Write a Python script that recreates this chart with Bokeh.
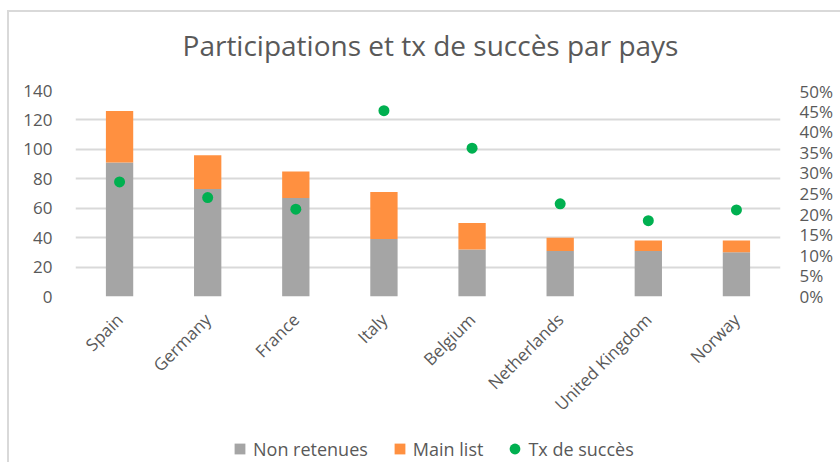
import math
from bokeh.plotting import figure
from bokeh.layouts import column
from bokeh.models import (FactorRange, Range1d, LinearAxis, NumeralTickFormatter,
                          Legend, LegendItem, ColumnDataSource, FixedTicker, Div)
from bokeh.embed import file_html
from bokeh.resources import INLINE

countries = ["Spain", "Germany", "France", "Italy", "Belgium", "Netherlands", "United Kingdom", "Norway"]
non_retenues = [91, 73, 67, 39, 32, 31, 31, 30]
main_list = [35, 23, 18, 32, 18, 9, 7, 8]
tx_succes = [0.278, 0.240, 0.212, 0.451, 0.360, 0.225, 0.184, 0.210]

left_ticks = [0, 20, 40, 60, 80, 100, 120, 140]
right_ticks = [0, 0.05, 0.10, 0.15, 0.20, 0.25, 0.30, 0.35, 0.40, 0.45, 0.50]

series_labels = ["Non retenues", "Main list", "Tx de succès"]
series_colors = ["#A5A5A5", "#FF9040", "#00B050"]
title_text = "Participations et tx de succès par pays"

TEXT = "#595959"
GRID = "#D9D9D9"
FONT = "Open Sans"

src = ColumnDataSource(dict(country=countries, non_retenues=non_retenues,
                            main_list=main_list, tx=tx_succes))

title_div = Div(text=title_text, width=831, height=57,
                styles={"font-family": "'Open Sans'", "font-size": "28px", "color": TEXT,
                        "line-height": "57px", "text-align": "center",
                        "padding-left": "2px", "box-sizing": "border-box"})

p = figure(x_range=FactorRange(*countries, range_padding=0), y_range=Range1d(0, 140),
           width=831, height=356, output_backend="svg", toolbar_location=None,
           min_border_left=66, min_border_right=60, min_border_top=11, min_border_bottom=139)
p.extra_y_ranges = {"pct": Range1d(0, 0.5)}
p.title.visible = False

p.vbar_stack(["non_retenues", "main_list"], x="country", width=0.31, source=src,
             color=series_colors[:2], line_color=None)
p.scatter(x="country", y="tx", y_range_name="pct", source=src, size=11,
          color=series_colors[2], line_color=None)

p.outline_line_color = None
p.xgrid.grid_line_color = None
p.ygrid.grid_line_color = GRID
p.ygrid.grid_line_width = 2
p.yaxis.ticker = FixedTicker(ticks=left_ticks)

ya = p.yaxis[0]
ya.axis_line_color = None
ya.major_tick_line_color = None
ya.minor_tick_line_color = None
ya.major_label_text_font = FONT
ya.major_label_text_font_size = "17px"
ya.major_label_text_color = TEXT
ya.major_label_standoff = 17

ax2 = LinearAxis(y_range_name="pct", ticker=FixedTicker(ticks=right_ticks),
                 formatter=NumeralTickFormatter(format="0%"))
ax2.axis_line_color = None
ax2.major_tick_line_color = None
ax2.minor_tick_line_color = None
ax2.major_label_text_font = FONT
ax2.major_label_text_font_size = "17px"
ax2.major_label_text_color = TEXT
ax2.major_label_standoff = 13
p.add_layout(ax2, "right")

xa = p.xaxis[0]
xa.axis_line_color = None
xa.major_tick_line_color = None
xa.minor_tick_line_color = None
xa.major_label_orientation = math.pi / 4
xa.major_label_text_font = FONT
xa.major_label_text_font_size = "17px"
xa.major_label_text_color = TEXT
xa.major_label_standoff = 14

# legend strip below the chart (dummy renderers lie outside the strip's ranges)
pl = figure(width=831, height=27, x_range=Range1d(0, 1), y_range=Range1d(0, 1),
            output_backend="svg", toolbar_location=None,
            min_border_left=0, min_border_right=0, min_border_top=0, min_border_bottom=0)
pl.axis.visible = False
pl.grid.visible = False
pl.outline_line_color = None
pl.title.visible = False
markers = ["square", "square", "circle"]
items = []
for lab, col, mk in zip(series_labels, series_colors, markers):
    r = pl.scatter(x=[5], y=[5], marker=mk, color=col, line_color=None, size=10)
    items.append(LegendItem(label=lab, renderers=[r]))
legend = Legend(items=items, orientation="horizontal", location=(151, 0),
                label_text_font=FONT, label_text_font_size="18px", label_text_color=TEXT,
                glyph_width=27, glyph_height=27, spacing=18, label_standoff=0,
                border_line_color=None, background_fill_alpha=0, margin=0, padding=0)
pl.add_layout(legend, "center")

layout = column(title_div, p, pl, spacing=0,
                styles={"margin-left": "7px", "margin-top": "10px",
                        "border-top": "2px solid #D9D9D9", "border-left": "2px solid #D9D9D9"})

open("out.html", "w").write(file_html(layout, INLINE))
